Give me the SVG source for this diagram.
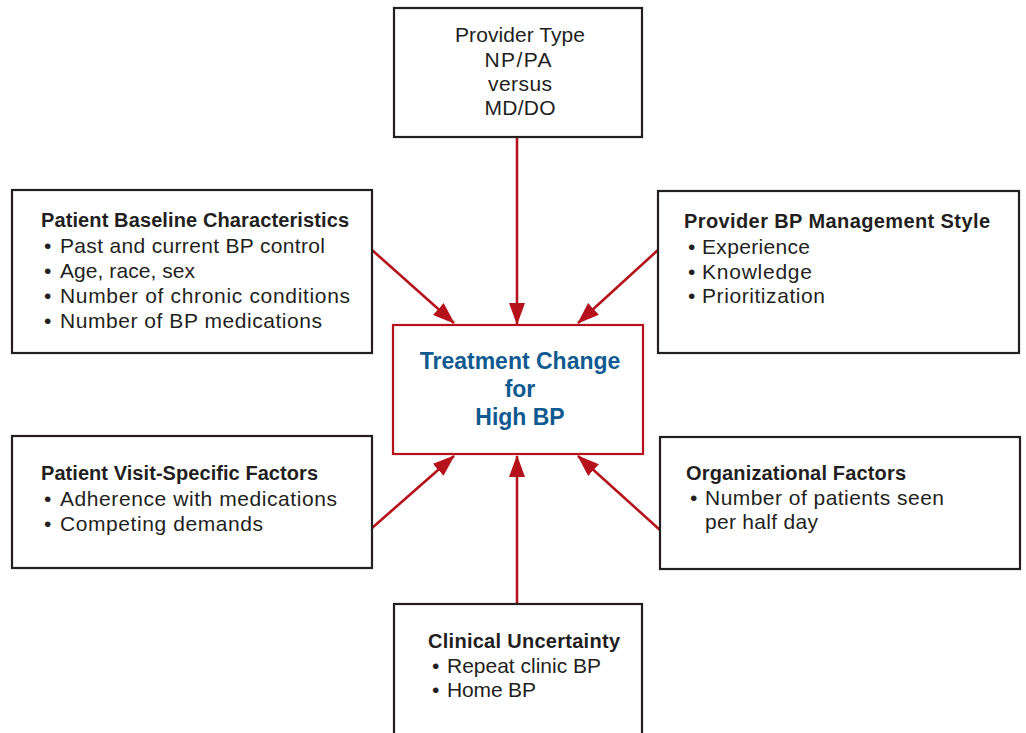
<svg xmlns="http://www.w3.org/2000/svg" width="1026" height="733" viewBox="0 0 1026 733">
<defs>
<style>
.box{fill:#fff;stroke:#231f20;stroke-width:2.2}
.center{fill:#fff;stroke:#b5121b;stroke-width:2.2}
.t{font-family:"Liberation Sans",Arial,sans-serif;font-size:21px;fill:#231f20}
.b{font-family:"Liberation Sans",Arial,sans-serif;font-size:20px;font-weight:bold;fill:#231f20}
.c{font-family:"Liberation Sans",Arial,sans-serif;font-size:23px;font-weight:bold;fill:#0f5a91;text-anchor:middle}
.m{text-anchor:middle}
.conn{stroke:#b5121b;stroke-width:2.6;fill:none;marker-end:url(#ah)}
</style>
<marker id="ah" markerUnits="userSpaceOnUse" markerWidth="22" markerHeight="16" viewBox="0 0 22 16" refX="21" refY="8" orient="auto">
<path d="M0,0 L22,8 L0,16 Z" fill="#b5121b"/>
</marker>
</defs>
<rect width="1026" height="733" fill="#fff"/>
<g id="connectors">
<line class="conn" x1="517" y1="137" x2="517" y2="324"/>
<line class="conn" x1="372" y1="250" x2="454" y2="323"/>
<line class="conn" x1="658" y1="250" x2="578" y2="323"/>
<line class="conn" x1="372" y1="528" x2="454" y2="456"/>
<line class="conn" x1="660" y1="530" x2="578" y2="456"/>
<line class="conn" x1="517" y1="604" x2="517" y2="456"/>
</g>
<g id="provider-type">
<rect class="box" x="394" y="8" width="248" height="129"/>
<text class="t m" x="520" y="42" textLength="130">Provider Type</text>
<text class="t m" x="518" y="67" textLength="67">NP/PA</text>
<text class="t m" x="520" y="91" textLength="64">versus</text>
<text class="t m" x="520" y="115" textLength="71">MD/DO</text>
</g>
<g id="patient-baseline">
<rect class="box" x="12" y="190" width="360" height="163"/>
<text class="b" x="41" y="227" textLength="308">Patient Baseline Characteristics</text>
<text class="t" x="44" y="253">•</text><text class="t" x="60" y="253" textLength="265">Past and current BP control</text>
<text class="t" x="44" y="278">•</text><text class="t" x="60" y="278" textLength="135">Age, race, sex</text>
<text class="t" x="44" y="303">•</text><text class="t" x="60" y="303" textLength="290">Number of chronic conditions</text>
<text class="t" x="44" y="328">•</text><text class="t" x="60" y="328" textLength="262">Number of BP medications</text>
</g>
<g id="provider-style">
<rect class="box" x="658" y="191" width="361" height="162"/>
<text class="b" x="684" y="228" textLength="306">Provider BP Management Style</text>
<text class="t" x="688" y="254">•</text><text class="t" x="702" y="254" textLength="108">Experience</text>
<text class="t" x="688" y="279">•</text><text class="t" x="702" y="279" textLength="110">Knowledge</text>
<text class="t" x="688" y="303">•</text><text class="t" x="702" y="303" textLength="123">Prioritization</text>
</g>
<g id="treatment-change">
<rect class="center" x="393" y="325" width="250" height="129"/>
<text class="c" x="520" y="369">Treatment Change</text>
<text class="c" x="520" y="397">for</text>
<text class="c" x="520" y="425">High BP</text>
</g>
<g id="visit-factors">
<rect class="box" x="12" y="436" width="360" height="132"/>
<text class="b" x="41" y="480" textLength="277">Patient Visit-Specific Factors</text>
<text class="t" x="44" y="506">•</text><text class="t" x="60" y="506" textLength="277">Adherence with medications</text>
<text class="t" x="44" y="531">•</text><text class="t" x="60" y="531" textLength="203">Competing demands</text>
</g>
<g id="organizational">
<rect class="box" x="660" y="437" width="360" height="132"/>
<text class="b" x="686" y="480" textLength="220">Organizational Factors</text>
<text class="t" x="690" y="505">•</text><text class="t" x="705" y="505" textLength="239">Number of patients seen</text>
<text class="t" x="705" y="529" textLength="113">per half day</text>
</g>
<g id="clinical-uncertainty">
<rect class="box" x="394" y="604" width="248" height="140"/>
<text class="b" x="428" y="648" textLength="192">Clinical Uncertainty</text>
<text class="t" x="432" y="673">•</text><text class="t" x="447" y="673" textLength="154">Repeat clinic BP</text>
<text class="t" x="432" y="697">•</text><text class="t" x="447" y="697" textLength="89">Home BP</text>
</g>
</svg>
